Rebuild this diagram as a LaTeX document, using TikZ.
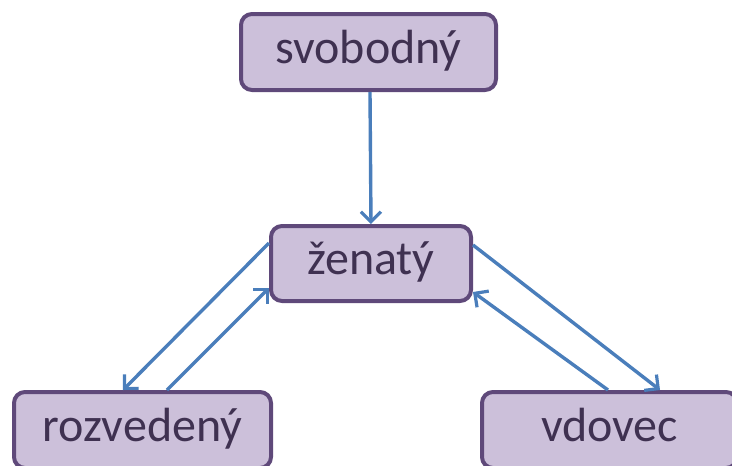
\documentclass[tikz,border=0pt]{standalone}
\usepackage{fontspec}
\setmainfont{Carlito}
\usetikzlibrary{arrows.meta}
\definecolor{boxfill}{HTML}{CCC0DA}
\definecolor{boxline}{HTML}{5F497A}
\definecolor{boxtext}{HTML}{3F3151}
\definecolor{arrowblue}{HTML}{4A7EBB}
\tikzset{
  state/.style={draw=boxline, fill=boxfill, line width=4pt, rounded corners=11pt,
    text=boxtext, font=\fontsize{48}{56}\selectfont, inner sep=0pt,
    text height=30pt, text depth=8pt, minimum height=76pt},
  trans/.style={draw=arrowblue, line width=3.4pt,
    -{Straight Barb[length=10pt,width=20pt,line width=3.2pt]}}
}
\begin{document}
\begin{tikzpicture}[x=1pt,y=1pt]
  \useasboundingbox (0,0) rectangle (732,-466);
  \node[state, minimum width=255pt] (s) at (368.5,-52) {svobodný};
  \node[state, minimum width=200pt, minimum height=75pt] (z) at (371,-263.5) {ženatý};
  \node[state, minimum width=257pt] (r) at (142.5,-430) {rozvedený};
  \node[state, minimum width=255pt] (v) at (609.5,-430) {vdovec};

  \draw[trans] ([xshift=1.5pt]s.south) -- (z.north);
  \draw[trans] ([yshift=20.5pt]z.west) -- ([xshift=-19.5pt]r.north);
  \draw[trans] ([xshift=24.5pt]r.north) -- ([yshift=-24.5pt]z.west);
  \draw[trans] ([yshift=18.5pt]z.east) -- ([xshift=50.5pt]v.north);
  \draw[trans] ([xshift=-1.5pt]v.north) -- ([yshift=-28.5pt]z.east);
\end{tikzpicture}
\end{document}
